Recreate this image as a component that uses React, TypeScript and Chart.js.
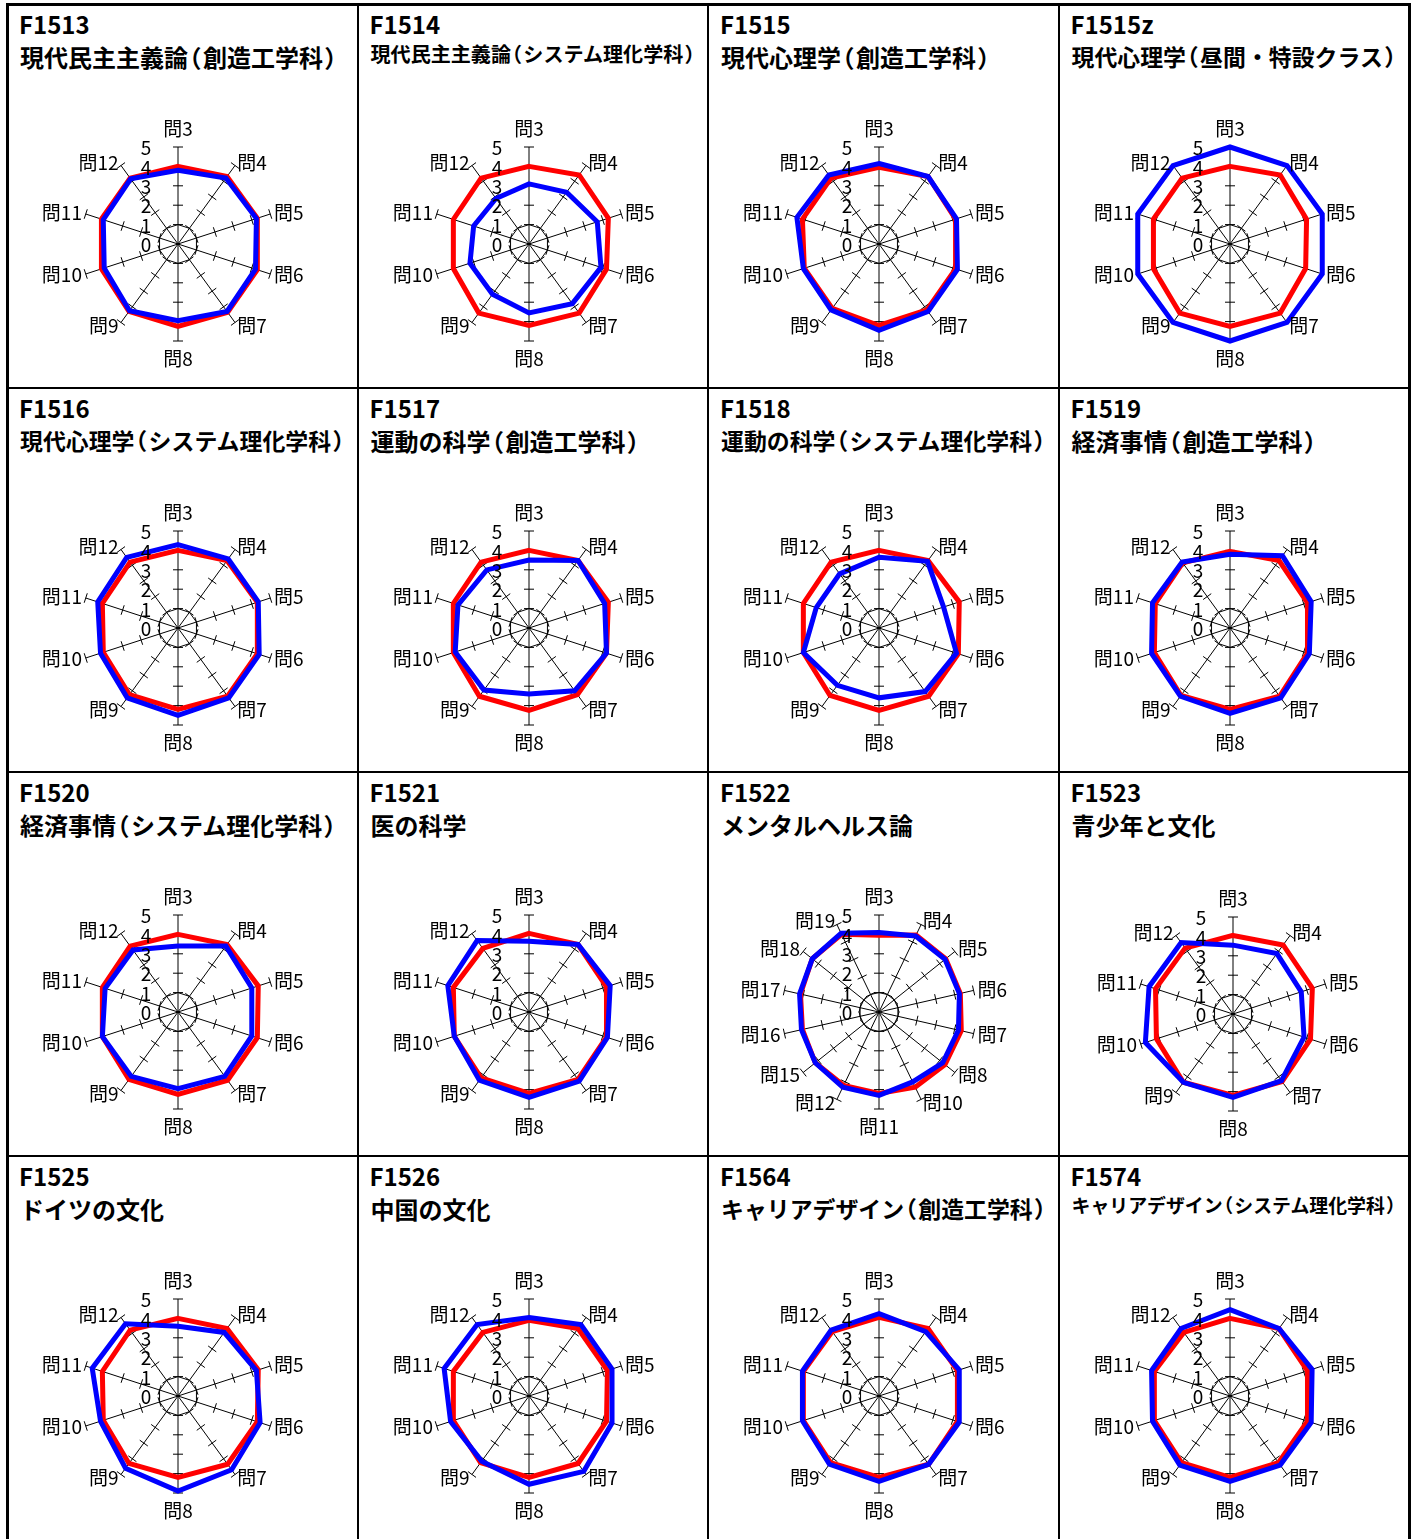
import React, { useEffect, useRef } from 'react';
import { Chart, registerables } from 'chart.js';

Chart.register(...registerables);

// ---------------- data ----------------
const CODES = ['F1513', 'F1514', 'F1515', 'F1515z', 'F1516', 'F1517', 'F1518', 'F1519',
  'F1520', 'F1521', 'F1522', 'F1523', 'F1525', 'F1526', 'F1564', 'F1574'];

const TITLES = [
  '現代民主主義論（創造工学科）',
  '現代民主主義論（システム理化学科）',
  '現代心理学（創造工学科）',
  '現代心理学（昼間・特設クラス）',
  '現代心理学（システム理化学科）',
  '運動の科学（創造工学科）',
  '運動の科学（システム理化学科）',
  '経済事情（創造工学科）',
  '経済事情（システム理化学科）',
  '医の科学',
  'メンタルヘルス論',
  '青少年と文化',
  'ドイツの文化',
  '中国の文化',
  'キャリアデザイン（創造工学科）',
  'キャリアデザイン（システム理化学科）',
];

const AXES_10 = ['問3', '問4', '問5', '問6', '問7', '問8', '問9', '問10', '問11', '問12'];
const AXES_14 = ['問3', '問4', '問5', '問6', '問7', '問8', '問10', '問11', '問12', '問15', '問16', '問17', '問18', '問19'];
const TICK_VALUES = [0, 1, 2, 3, 4, 5];
const SERIES_NAMES = ['全体平均', '当該科目'];

const RED_F1513 = [4.0, 4.3, 4.3, 4.3, 4.35, 4.25, 4.3, 4.15, 4.15, 4.2];
const BLUE_F1513 = [3.8, 4.2, 4.25, 4.2, 4.3, 3.95, 4.25, 4.0, 4.05, 4.15];
const RED_F1514 = [4.0, 4.4, 4.3, 4.2, 4.4, 4.2, 4.4, 4.1, 4.1, 4.2];
const BLUE_F1514 = [3.1, 3.3, 3.7, 3.9, 3.8, 3.55, 3.2, 3.2, 3.0, 2.9];
const RED_F1515 = [3.95, 4.3, 4.15, 4.15, 4.2, 4.2, 4.1, 4.05, 4.15, 4.2];
const BLUE_F1515 = [4.15, 4.3, 4.2, 4.25, 4.3, 4.45, 4.2, 4.1, 4.45, 4.4];
const RED_F1515Z = [4.0, 4.4, 4.15, 4.1, 4.4, 4.25, 4.4, 4.15, 4.15, 4.2];
const BLUE_F1515Z = [5, 5, 5, 5, 5, 5, 5, 5, 5, 5];
const RED_F1516 = [4.0, 4.3, 4.3, 4.3, 4.35, 4.2, 4.25, 4.05, 4.1, 4.2];
const BLUE_F1516 = [4.3, 4.4, 4.35, 4.4, 4.45, 4.5, 4.45, 4.2, 4.35, 4.5];
const RED_F1517 = [4.0, 4.3, 4.3, 4.2, 4.25, 4.25, 4.35, 4.1, 4.1, 4.2];
const BLUE_F1517 = [3.5, 4.3, 4.1, 4.2, 4.0, 3.4, 3.95, 4.0, 3.85, 3.7];
const RED_F1518 = [4.0, 4.3, 4.35, 4.3, 4.35, 4.25, 4.3, 4.1, 4.1, 4.2];
const BLUE_F1518 = [3.65, 4.25, 3.5, 4.2, 4.05, 3.6, 3.65, 4.1, 3.4, 3.45];
const RED_F1519 = [3.95, 4.3, 4.2, 4.2, 4.35, 4.2, 4.3, 4.1, 4.05, 4.15];
const BLUE_F1519 = [3.8, 4.6, 4.4, 4.3, 4.45, 4.4, 4.35, 4.25, 4.2, 4.2];
const RED_F1520 = [4.0, 4.3, 4.35, 4.3, 4.35, 4.25, 4.3, 4.1, 4.1, 4.2];
const BLUE_F1520 = [3.4, 4.2, 4.0, 4.0, 4.1, 3.95, 4.1, 4.1, 3.95, 3.95];
const RED_F1521 = [4.05, 4.3, 4.2, 4.2, 4.3, 4.2, 4.2, 4.05, 4.1, 4.05];
const BLUE_F1521 = [3.65, 4.3, 4.4, 4.25, 4.4, 4.4, 4.35, 4.05, 4.4, 4.55];
const RED_F1522 = [3.95, 4.4, 4.4, 4.3, 4.35, 4.35, 4.3, 4.2, 4.2, 4.2, 4.05, 4.15, 4.4, 4.45];
const BLUE_F1522 = [4.1, 4.35, 4.35, 4.25, 4.2, 4.2, 4.0, 4.3, 4.3, 4.2, 4.1, 4.2, 4.4, 4.5];
const RED_F1523 = [4.05, 4.4, 4.3, 4.2, 4.3, 4.2, 4.35, 4.15, 4.2, 4.2];
const BLUE_F1523 = [3.55, 3.85, 3.7, 3.85, 4.25, 4.3, 4.35, 4.75, 4.55, 4.55];
const RED_F1525 = [4.0, 4.3, 4.35, 4.3, 4.35, 4.2, 4.3, 4.05, 4.1, 4.2];
const BLUE_F1525 = [3.6, 4.05, 4.25, 4.45, 4.7, 4.9, 4.6, 4.2, 4.65, 4.6];
const RED_F1526 = [3.9, 4.3, 4.25, 4.2, 4.3, 4.2, 4.25, 4.1, 4.1, 4.05];
const BLUE_F1526 = [4.05, 4.55, 4.5, 4.5, 4.8, 4.55, 4.15, 4.25, 4.6, 4.55];
const RED_F1564 = [4.05, 4.3, 4.25, 4.25, 4.35, 4.2, 4.25, 4.1, 4.1, 4.1];
const BLUE_F1564 = [4.25, 4.1, 4.35, 4.35, 4.35, 4.4, 4.35, 4.15, 4.15, 4.2];
const RED_F1574 = [4.0, 4.3, 4.2, 4.2, 4.25, 4.2, 4.25, 4.1, 4.1, 4.05];
const BLUE_F1574 = [4.45, 4.3, 4.45, 4.4, 4.4, 4.4, 4.4, 4.2, 4.25, 4.3];

const RED_SERIES = [RED_F1513, RED_F1514, RED_F1515, RED_F1515Z, RED_F1516, RED_F1517, RED_F1518, RED_F1519,
  RED_F1520, RED_F1521, RED_F1522, RED_F1523, RED_F1525, RED_F1526, RED_F1564, RED_F1574];
const BLUE_SERIES = [BLUE_F1513, BLUE_F1514, BLUE_F1515, BLUE_F1515Z, BLUE_F1516, BLUE_F1517, BLUE_F1518, BLUE_F1519,
  BLUE_F1520, BLUE_F1521, BLUE_F1522, BLUE_F1523, BLUE_F1525, BLUE_F1526, BLUE_F1564, BLUE_F1574];

// ---------------- layout (not data) ----------------
const COL_W = 350.5;
const ROW_H = 384;
const GRID_X0 = 7;
const GRID_Y0 = 4;
const CANVAS_W = 350;
const CANVAS_H = 294;
const CANVAS_TOP = 90; // canvas top relative to cell top
const CENTER_X = 171;  // chart center within canvas
const CENTER_Y = 150;
const RADIUS = 97;
const CENTER_SHIFT: Record<string, [number, number]> = { F1523: [3, 2] };

const LABEL_FONT = '19px "Noto Sans CJK JP", sans-serif';

const radarDecor = {
  id: 'radarDecor',
  beforeDatasetsDraw(chart: any) {
    const s = chart.scales.r;
    const ctx = chart.ctx;
    const n = chart.data.labels.length;
    ctx.save();
    ctx.strokeStyle = '#000';
    ctx.lineWidth = 1;
    for (let i = 0; i < n; i++) {
      const a = s.getIndexAngle(i);
      const px = Math.cos(a);
      const py = Math.sin(a);
      for (const v of TICK_VALUES) {
        if (v === 0) continue;
        const p = s.getPointPositionForValue(i, v);
        ctx.beginPath();
        ctx.moveTo(p.x - px * 5, p.y - py * 5);
        ctx.lineTo(p.x + px * 5, p.y + py * 5);
        ctx.stroke();
      }
    }
    ctx.restore();
  },
  afterDatasetsDraw(chart: any) {
    const s = chart.scales.r;
    const ctx = chart.ctx;
    const labels = chart.data.labels as string[];
    ctx.save();
    ctx.fillStyle = '#000';
    ctx.font = LABEL_FONT;
    // value tick labels, left of the top axis
    ctx.textAlign = 'center';
    ctx.textBaseline = 'middle';
    for (const v of TICK_VALUES) {
      const y = s.yCenter - s.getDistanceFromCenterForValue(v);
      ctx.fillText(String(v), s.xCenter - 32, y + 1);
    }
    // axis (point) labels
    labels.forEach((lab, i) => {
      const a = s.getIndexAngle(i);
      const sn = Math.sin(a);
      const cs = Math.cos(a);
      const end = s.getPointPositionForValue(i, s.max);
      if (Math.abs(sn) < 0.05) {
        ctx.textAlign = 'center';
        ctx.fillText(lab, end.x, end.y - cs * 18);
      } else {
        const p = s.getPointPosition(i, s.drawingArea + 4);
        ctx.textAlign = sn > 0 ? 'left' : 'right';
        ctx.fillText(lab, p.x, p.y);
      }
    });
    ctx.restore();
  },
};

function Radar(props: { axes: string[]; red: number[]; blue: number[] }) {
  const ref = useRef<HTMLCanvasElement>(null);
  useEffect(() => {
    const padL = CENTER_X - RADIUS;
    const padT = CENTER_Y - RADIUS;
    const chart = new Chart(ref.current as HTMLCanvasElement, {
      type: 'radar',
      data: {
        labels: props.axes,
        datasets: [
          {
            label: SERIES_NAMES[1],
            data: props.blue,
            borderColor: '#0000ff',
            backgroundColor: 'rgba(0,0,0,0)',
            borderWidth: 5,
            borderJoinStyle: 'miter',
            fill: false,
            pointRadius: 0,
            pointHoverRadius: 0,
            order: 0,
            clip: false,
          } as any,
          {
            label: SERIES_NAMES[0],
            data: props.red,
            borderColor: '#ff0000',
            backgroundColor: 'rgba(0,0,0,0)',
            borderWidth: 5,
            borderJoinStyle: 'miter',
            fill: false,
            pointRadius: 0,
            pointHoverRadius: 0,
            order: 1,
            clip: false,
          } as any,
        ],
      },
      options: {
        responsive: false,
        animation: false,
        events: [],
        layout: {
          padding: {
            left: padL,
            top: padT,
            right: CANVAS_W - padL - 2 * RADIUS,
            bottom: CANVAS_H - padT - 2 * RADIUS,
          },
        },
        plugins: { legend: { display: false }, tooltip: { enabled: false }, title: { display: false } },
        scales: {
          r: {
            min: 0,
            max: 5,
            ticks: { display: false, stepSize: 1 },
            pointLabels: { display: false },
            grid: {
              color: (c: any) => (c.tick && c.tick.value === 1 ? '#000' : 'rgba(0,0,0,0)'),
              lineWidth: 1,
            },
            angleLines: { color: '#000', lineWidth: 1 },
          },
        },
      } as any,
      plugins: [radarDecor],
    });
    return () => chart.destroy();
  }, [props.axes, props.red, props.blue]);
  return <canvas ref={ref} width={CANVAS_W} height={CANVAS_H} style={{ display: 'block', width: CANVAS_W, height: CANVAS_H }} />;
}

function Title(props: { text: string }) {
  const chars = Array.from(props.text);
  const parens = chars.filter((ch) => ch === '（' || ch === '）').length;
  const ems = chars.length - parens + parens * 0.62;
  const fs = Math.min(24, 326 / ems);
  const parts = chars.map((ch, i) =>
    ch === '（' || ch === '）'
      ? <span key={i} style={{ fontFeatureSettings: '"halt"', margin: `0 ${(fs * 0.06).toFixed(2)}px` }}>{ch}</span>
      : <React.Fragment key={i}>{ch}</React.Fragment>
  );
  return <span style={{ font: `bold ${fs}px "Noto Sans CJK JP", sans-serif` }}>{parts}</span>;
}

export default function App() {
  const cells = CODES.map((code, k) => {
    const col = k % 4;
    const row = Math.floor(k / 4);
    const left = GRID_X0 + col * COL_W;
    const top = GRID_Y0 + row * ROW_H;
    const shift = CENTER_SHIFT[code] || [0, 0];
    const axes = code === 'F1522' ? AXES_14 : AXES_10;
    return (
      <React.Fragment key={code}>
        <div style={{ position: 'absolute', left: left + 12, top: top + 5, font: 'bold 24px "Noto Sans CJK JP", sans-serif', lineHeight: '30px', whiteSpace: 'nowrap', color: '#000' }}>{code}</div>
        <div style={{ position: 'absolute', left: left + 13, top: top + 35, lineHeight: '30px', whiteSpace: 'nowrap', color: '#000' }}>
          <Title text={TITLES[k]} />
        </div>
        <div style={{ position: 'absolute', left: left + shift[0], top: top + CANVAS_TOP + shift[1] }}>
          <Radar axes={axes} red={RED_SERIES[k]} blue={BLUE_SERIES[k]} />
        </div>
      </React.Fragment>
    );
  });

  const vLines = [0, 1, 2, 3, 4].map((c) => {
    const outer = c === 0 || c === 4;
    const w = outer ? 3 : 2;
    return <div key={'v' + c} style={{ position: 'absolute', left: GRID_X0 + c * COL_W - w / 2, top: GRID_Y0 - 1, width: w, height: 1600, background: '#000' }} />;
  });
  const hLines = [0, 1, 2, 3, 4].map((r) => {
    const outer = r === 0;
    const h = outer ? 3 : 2;
    return <div key={'h' + r} style={{ position: 'absolute', left: GRID_X0 - 1, top: GRID_Y0 + r * ROW_H - h / 2, width: 4 * COL_W + 2, height: h, background: '#000' }} />;
  });

  return (
    <div style={{ position: 'absolute', left: 0, top: 0, width: 1418, height: 1539, overflow: 'hidden', background: '#fff' }}>
      {cells}
      {vLines}
      {hLines}
    </div>
  );
}
